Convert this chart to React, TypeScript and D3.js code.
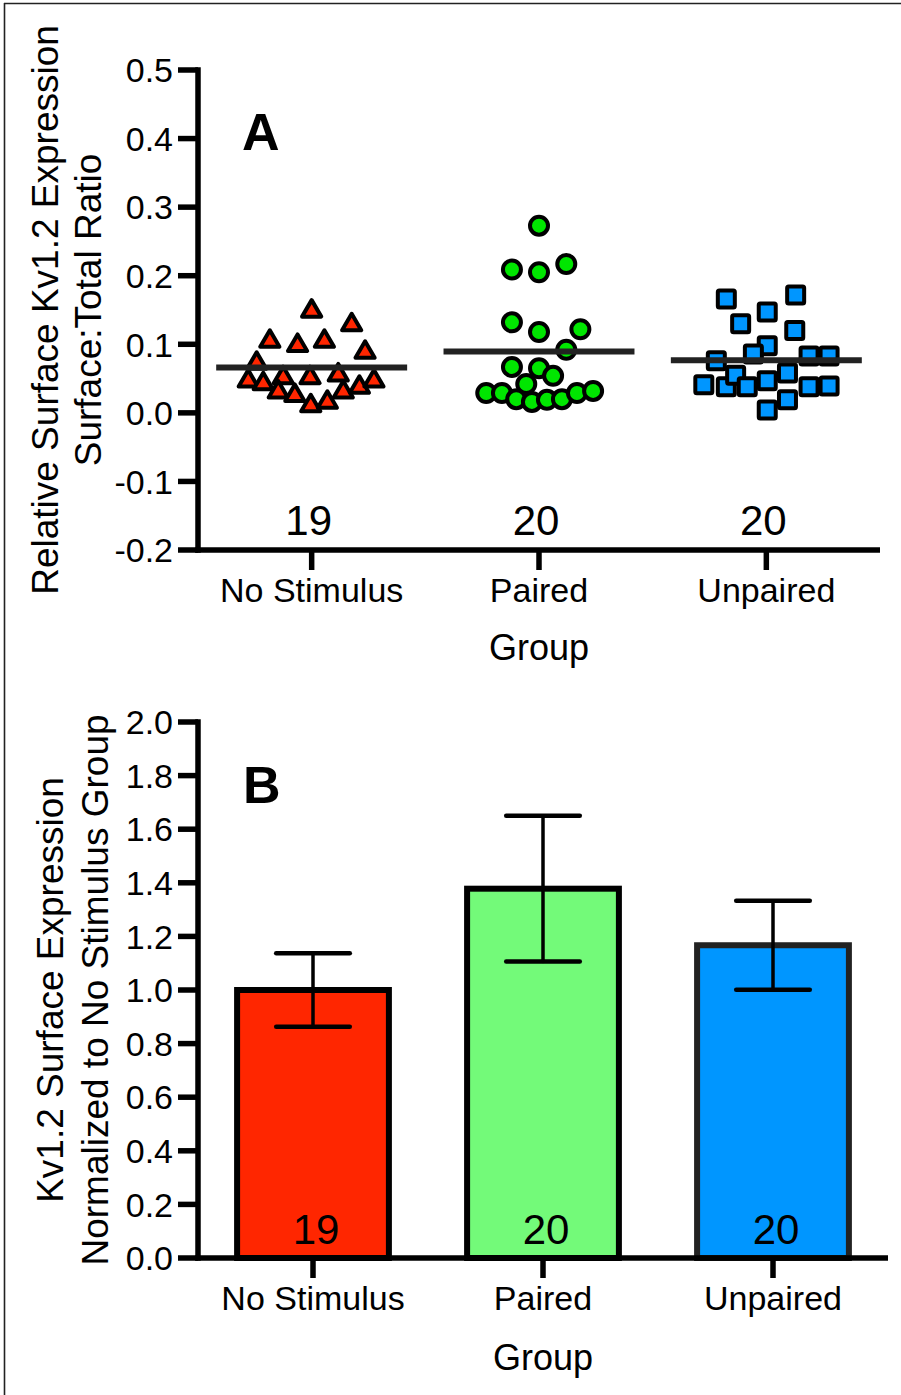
import React from 'react';
import * as d3 from 'd3';

// Groups and animal counts
const groups = ['No Stimulus', 'Paired', 'Unpaired'];
const counts = [19, 20, 20];

// Panel A: surface:total Kv1.2 ratio per animal, with the horizontal scatter
// offset of each point (fraction of one category step)
const noStimValues = [0.152, 0.132, 0.108, 0.102, 0.108, 0.092, 0.076, 0.059, 0.05, 0.046, 0.055, 0.055, 0.034, 0.029, 0.034, 0.041, 0.05, 0.014, 0.019];
const noStimJitter = [0.0, 0.176, -0.184, -0.062, 0.056, 0.235, -0.242, 0.117, -0.279, -0.213, -0.125, -0.007, -0.147, -0.074, 0.139, 0.21, 0.274, -0.004, 0.069];

const pairedValues = [0.273, 0.209, 0.205, 0.217, 0.132, 0.118, 0.122, 0.092, 0.067, 0.065, 0.054, 0.042, 0.029, 0.029, 0.02, 0.016, 0.019, 0.02, 0.029, 0.032];
const pairedJitter = [0.0, -0.119, 0.0, 0.12, -0.119, 0.0, 0.182, 0.12, -0.119, 0.0, 0.062, -0.056, -0.232, -0.163, -0.1, -0.031, 0.035, 0.101, 0.167, 0.238];

const unpairedValues = [0.166, 0.172, 0.147, 0.13, 0.12, 0.098, 0.086, 0.076, 0.083, 0.083, 0.041, 0.038, 0.055, 0.038, 0.047, 0.058, 0.038, 0.039, 0.019, 0.004];
const unpairedJitter = [-0.176, 0.129, 0.004, -0.113, 0.125, 0.004, -0.057, -0.22, 0.188, 0.276, -0.275, -0.176, -0.135, -0.084, 0.004, 0.093, 0.188, 0.276, 0.093, 0.004];

const ratioTicks = [-0.2, -0.1, 0.0, 0.1, 0.2, 0.3, 0.4, 0.5];

// Panel B: surface expression normalised to the No Stimulus group (mean ± SEM)
const normMeans = [1.0, 1.378, 1.167];
const normSem = [0.137, 0.272, 0.166];
const normTicks = [0.0, 0.2, 0.4, 0.6, 0.8, 1.0, 1.2, 1.4, 1.6, 1.8, 2.0];

const FONT = "'Liberation Sans', Arial, Helvetica, sans-serif";
const groupFill = ['#ff2600', '#00e600', '#0096ff'];
const barFill = ['#ff2600', '#73fa79', '#0096ff'];
const barStroke = ['#000', '#000', '#222'];

const fmt = (v: number) => v.toFixed(1);

const trianglePath = 'M0,-8.5L9.6,8L-9.6,8Z';

function Marker({ kind, x, y, fill }: { kind: number; x: number; y: number; fill: string }) {
  const common = { fill, stroke: '#000', strokeWidth: 4, strokeLinejoin: 'round' as const };
  if (kind === 0) return <path d={trianglePath} transform={`translate(${x},${y})`} {...common} />;
  if (kind === 1) return <circle cx={x} cy={y} r={9} {...common} />;
  return <rect x={x - 8.5} y={y - 8.5} width={17} height={17} rx={1.5} {...common} />;
}

export default function App() {
  // Panel A scales
  const ax0 = 198, ax1 = 880, ayTop = 70, ayBot = 550;
  const xA = d3.scalePoint<string>().domain(groups).range([ax0, ax1]).padding(0.5);
  const yA = d3.scaleLinear().domain([-0.2, 0.5]).range([ayBot, ayTop]);
  const stepA = xA.step();

  // Panel B scales
  const bx0 = 198, bx1 = 888, byTop = 722, byBot = 1258;
  const xB = d3.scalePoint<string>().domain(groups).range([bx0, bx1]).padding(0.5);
  const yB = d3.scaleLinear().domain([0, 2]).range([byBot, byTop]);
  const stepB = xB.step();
  const barW = stepB * 0.66;
  const capW = stepB * 0.32;

  const seriesValues = [noStimValues, pairedValues, unpairedValues];
  const seriesJitter = [noStimJitter, pairedJitter, unpairedJitter];

  const axisW = 5.5;
  const tickLen = 20;

  return (
    <svg
      width={901}
      height={1395}
      style={{ position: 'absolute', left: 0, top: 0, background: '#fff' }}
      fontFamily={FONT}
    >
      <rect x={0} y={0} width={901} height={1395} fill="#fff" />
      {/* outer frame (top and left edges) */}
      <line x1={4} x2={901} y1={3.5} y2={3.5} stroke="#222" strokeWidth={1.6} />
      <line x1={4.5} x2={4.5} y1={3} y2={1395} stroke="#222" strokeWidth={1.6} />

      {/* ---------- Panel A ---------- */}
      <g>
        {/* y axis */}
        <line x1={ax0} x2={ax0} y1={ayTop - axisW / 2} y2={ayBot + axisW / 2} stroke="#000" strokeWidth={axisW} />
        {ratioTicks.map((t) => (
          <g key={t}>
            <line x1={ax0 - tickLen} x2={ax0} y1={yA(t)} y2={yA(t)} stroke="#000" strokeWidth={axisW} />
            <text x={ax0 - 25} y={yA(t)} dy="0.36em" textAnchor="end" fontSize={34}>
              {fmt(t)}
            </text>
          </g>
        ))}
        {/* x axis */}
        <line x1={ax0 - axisW / 2} x2={ax1} y1={ayBot} y2={ayBot} stroke="#000" strokeWidth={axisW} />
        {groups.map((g) => (
          <g key={g}>
            <line x1={xA(g)!} x2={xA(g)!} y1={ayBot} y2={ayBot + tickLen} stroke="#000" strokeWidth={axisW} />
            <text x={xA(g)!} y={602} textAnchor="middle" fontSize={34}>
              {g}
            </text>
          </g>
        ))}
        <text x={(ax0 + ax1) / 2} y={660} textAnchor="middle" fontSize={36}>
          Group
        </text>

        {/* points */}
        {seriesValues.map((vals, gi) => (
          <g key={gi}>
            {vals.map((v, i) => (
              <Marker
                key={i}
                kind={gi}
                x={xA(groups[gi])! + seriesJitter[gi][i] * stepA}
                y={yA(v)}
                fill={groupFill[gi]}
              />
            ))}
          </g>
        ))}

        {/* group means */}
        {seriesValues.map((vals, gi) => {
          const m = d3.mean(vals)!;
          const cx = xA(groups[gi])!;
          return (
            <line
              key={gi}
              x1={cx - stepA * 0.42}
              x2={cx + stepA * 0.42}
              y1={yA(m)}
              y2={yA(m)}
              stroke="#222"
              strokeWidth={6}
            />
          );
        })}

        {/* n per group */}
        {groups.map((g, i) => (
          <text key={g} x={xA(g)! - 3} y={ayBot - 15} textAnchor="middle" fontSize={42}>
            {counts[i]}
          </text>
        ))}

        {/* y title */}
        <text transform={`translate(58,${(ayTop + ayBot) / 2}) rotate(-90)`} textAnchor="middle" fontSize={37}>
          Relative Surface Kv1.2 Expression
        </text>
        <text transform={`translate(101,${(ayTop + ayBot) / 2}) rotate(-90)`} textAnchor="middle" fontSize={37}>
          Surface:Total Ratio
        </text>

        <text x={242} y={150} fontSize={52} fontWeight="bold">
          A
        </text>
      </g>

      {/* ---------- Panel B ---------- */}
      <g>
        {/* bars */}
        {groups.map((g, i) => (
          <rect
            key={g}
            x={xB(g)! - barW / 2}
            y={yB(normMeans[i])}
            width={barW}
            height={yB(0) - yB(normMeans[i])}
            fill={barFill[i]}
            stroke={barStroke[i]}
            strokeWidth={6}
          />
        ))}
        {/* error bars */}
        {groups.map((g, i) => {
          const cx = xB(g)!;
          const lo = yB(normMeans[i] - normSem[i]);
          const hi = yB(normMeans[i] + normSem[i]);
          return (
            <g key={g} stroke="#000" strokeLinecap="round">
              <line x1={cx} x2={cx} y1={hi} y2={lo} strokeWidth={3.5} />
              <line x1={cx - capW / 2} x2={cx + capW / 2} y1={hi} y2={hi} strokeWidth={4.5} />
              <line x1={cx - capW / 2} x2={cx + capW / 2} y1={lo} y2={lo} strokeWidth={4.5} />
            </g>
          );
        })}

        {/* y axis */}
        <line x1={bx0} x2={bx0} y1={byTop - axisW / 2} y2={byBot + axisW / 2} stroke="#000" strokeWidth={axisW} />
        {normTicks.map((t) => (
          <g key={t}>
            <line x1={bx0 - tickLen} x2={bx0} y1={yB(t)} y2={yB(t)} stroke="#000" strokeWidth={axisW} />
            <text x={bx0 - 25} y={yB(t)} dy="0.36em" textAnchor="end" fontSize={34}>
              {fmt(t)}
            </text>
          </g>
        ))}
        {/* x axis */}
        <line x1={bx0 - axisW / 2} x2={bx1} y1={byBot} y2={byBot} stroke="#000" strokeWidth={axisW} />
        {groups.map((g) => (
          <g key={g}>
            <line x1={xB(g)!} x2={xB(g)!} y1={byBot} y2={byBot + tickLen} stroke="#000" strokeWidth={axisW} />
            <text x={xB(g)!} y={1310} textAnchor="middle" fontSize={34}>
              {g}
            </text>
          </g>
        ))}
        <text x={(bx0 + bx1) / 2} y={1370} textAnchor="middle" fontSize={36}>
          Group
        </text>

        {/* n per group */}
        {groups.map((g, i) => (
          <text key={g} x={xB(g)! + 3} y={byBot - 14} textAnchor="middle" fontSize={42}>
            {counts[i]}
          </text>
        ))}

        {/* y title */}
        <text transform={`translate(63,${(byTop + byBot) / 2}) rotate(-90)`} textAnchor="middle" fontSize={37}>
          Kv1.2 Surface Expression
        </text>
        <text transform={`translate(108,${(byTop + byBot) / 2}) rotate(-90)`} textAnchor="middle" fontSize={37}>
          Normalized to No Stimulus Group
        </text>

        <text x={243} y={803} fontSize={52} fontWeight="bold">
          B
        </text>
      </g>
    </svg>
  );
}
